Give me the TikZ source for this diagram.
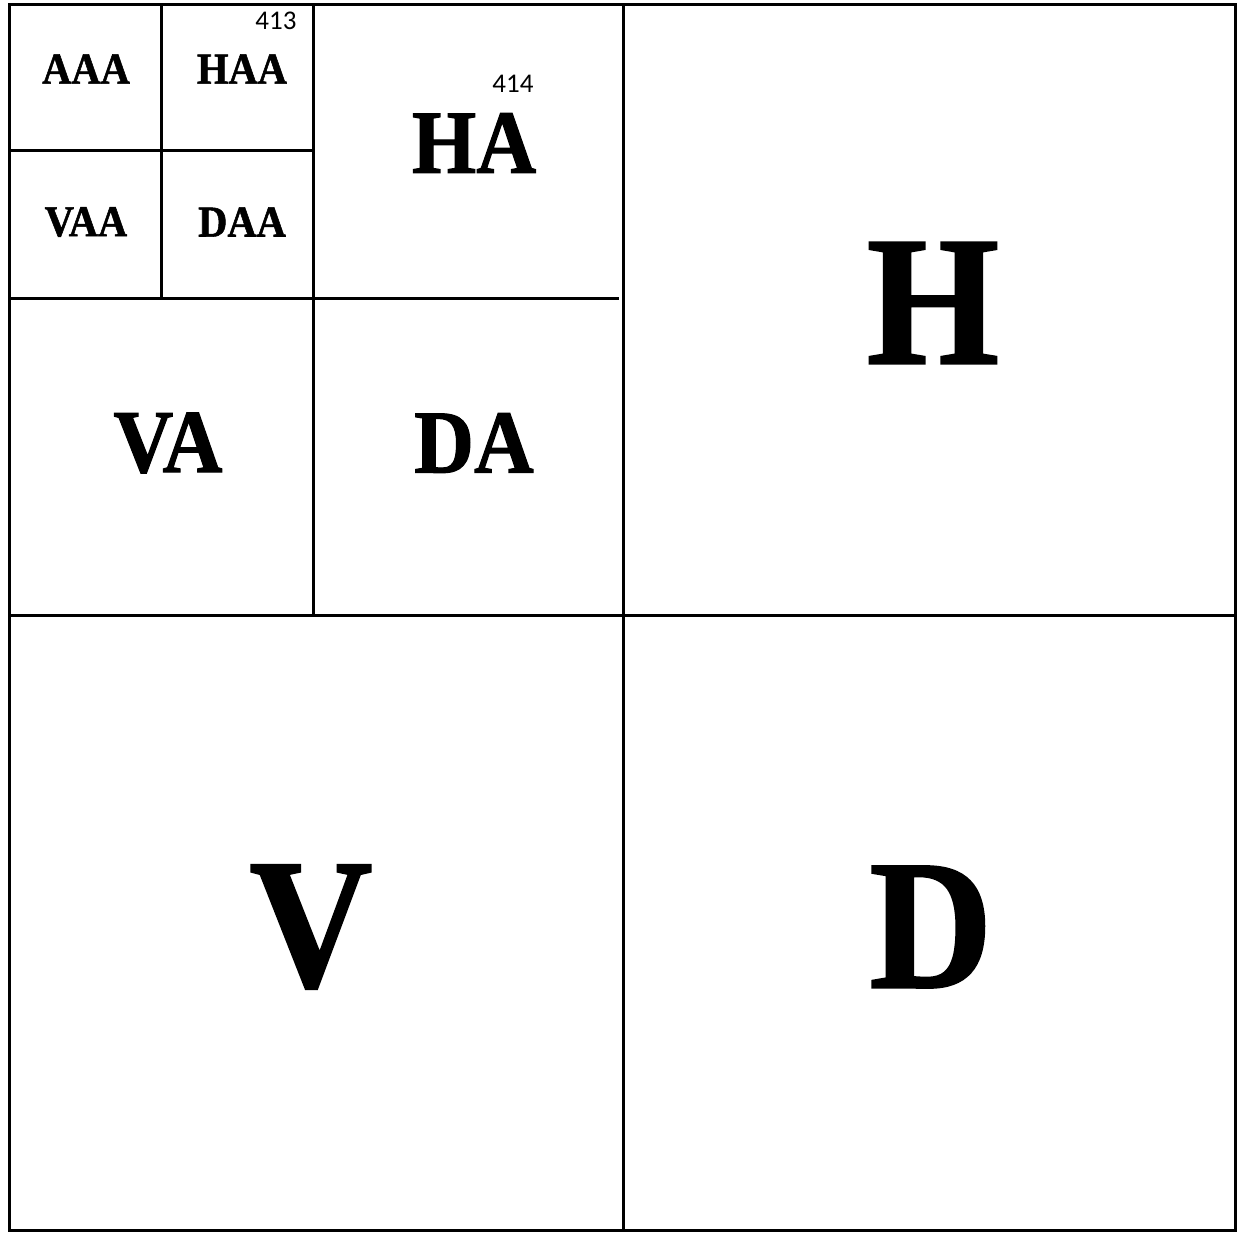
\documentclass[tikz,border=0pt]{standalone}
\usepackage{fontspec}
\setmainfont{Liberation Serif}[BoldFeatures={FakeStretch=0.92,FakeBold=1.2}]
\newfontfamily\numfont{Carlito}
\begin{document}
\begin{tikzpicture}[x=1pt,y=-1pt,line width=3pt,
  every node/.style={inner sep=0pt,font=\bfseries},
  band/.style={font=\bfseries\fontsize{44}{48}\selectfont},
  midband/.style={font=\bfseries\fontsize{90}{95}\selectfont},
  bigband/.style={font=\bfseries\fontsize{185}{190}\selectfont},
  tag/.style={font=\numfont\fontsize{27}{30}\selectfont}]
\useasboundingbox (0,0) rectangle (1237,1232);
% outer frame and level-1 split
\draw (9,4) rectangle (1235.5,1230);
\draw (623,4) -- (623,1230);
\draw (9,615) -- (1235.5,615);
% level-2 split (top-left quarter)
\draw (313,4) -- (313,615);
\draw (9,298) -- (619,298);
% level-3 split
\draw (161,4) -- (161,298);
\draw (9,150) -- (313,150);
% level-3 bands
\node[band] (aaa) at (86,69) {AAA};
\node[band] (haa) at (242,69) {HAA};
\node[band] (vaa) at (86,222) {VAA};
\node[band] (daa) at (242,222) {DAA};
% level-2 bands
\node[midband] (ha) at (474,143) {HA};
\node[midband] (va) at (168,443) {VA};
\node[midband] (da) at (474,443) {DA};
% level-1 bands
\node[bigband] (h) at (933,303) {H};
\node[bigband] (v) at (311,927) {V};
\node[bigband] (d) at (931,927) {D};
% reference numerals
\node[tag] (n413) at (276,21) {413};
\node[tag] (n414) at (513,84) {414};
\end{tikzpicture}
\end{document}
